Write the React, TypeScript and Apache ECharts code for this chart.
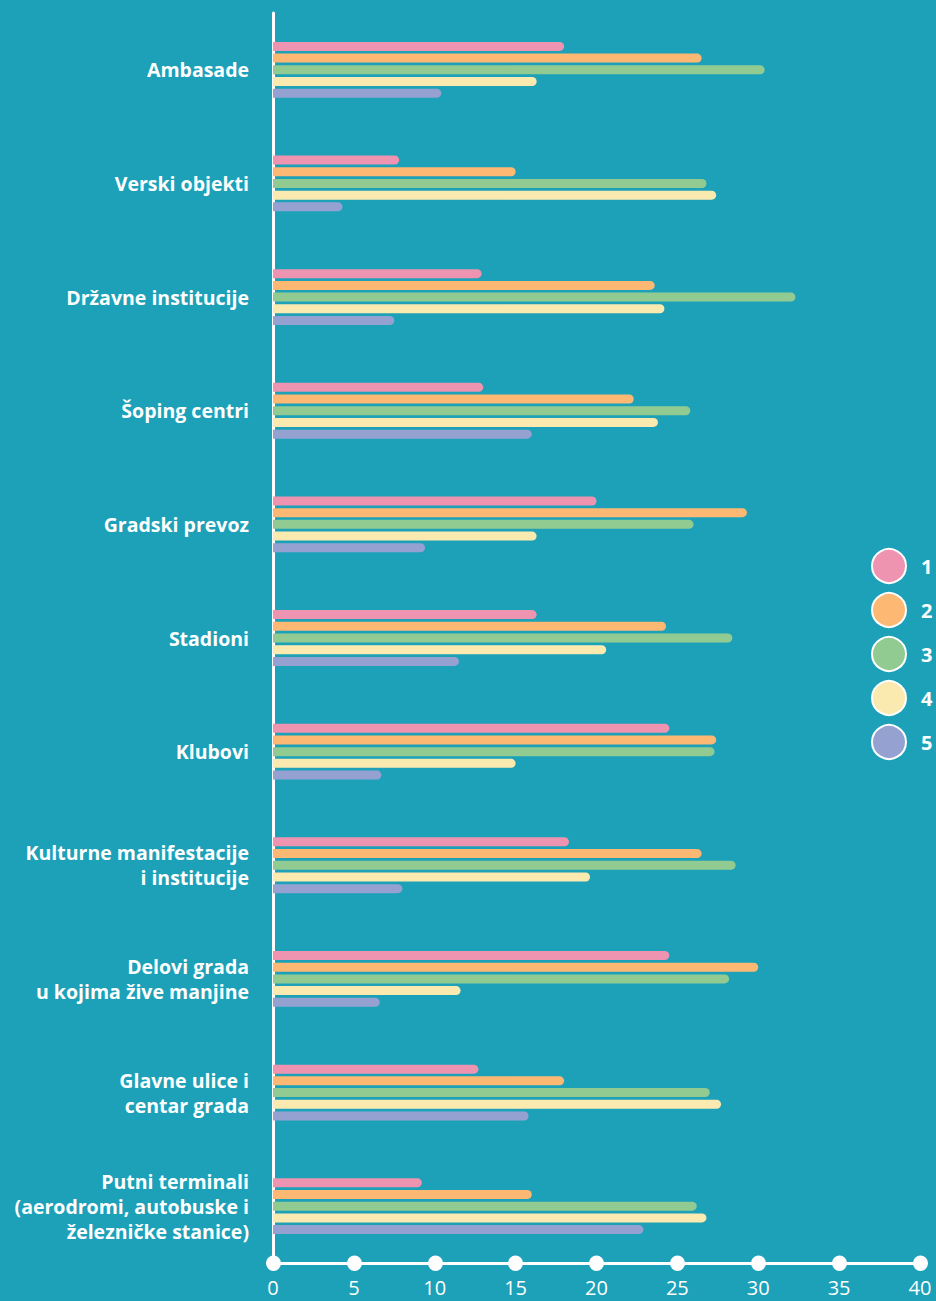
import React, { useEffect, useRef } from "react";
import * as echarts from "echarts";

const categories = [
  "Ambasade",
  "Verski objekti",
  "Državne institucije",
  "Šoping centri",
  "Gradski prevoz",
  "Stadioni",
  "Klubovi",
  "Kulturne manifestacije\ni institucije",
  "Delovi grada\nu kojima žive manjine",
  "Glavne ulice i\ncentar grada",
  "Putni terminali\n(aerodromi, autobuske i\nželezničke stanice)",
];

const seriesNames = ["1", "2", "3", "4", "5"];
const s1 = [18.0, 7.8, 12.9, 13.0, 20.0, 16.3, 24.5, 18.3, 24.5, 12.7, 9.2];
const s2 = [26.5, 15.0, 23.6, 22.3, 29.3, 24.3, 27.4, 26.5, 30.0, 18.0, 16.0];
const s3 = [30.4, 26.8, 32.3, 25.8, 26.0, 28.4, 27.3, 28.6, 28.2, 27.0, 26.2];
const s4 = [16.3, 27.4, 24.2, 23.8, 16.3, 20.6, 15.0, 19.6, 11.6, 27.7, 26.8];
const s5 = [10.4, 4.3, 7.5, 16.0, 9.4, 11.5, 6.7, 8.0, 6.6, 15.8, 22.9];
const seriesValues = [s1, s2, s3, s4, s5];
const colors = ["#ee94b1", "#fdb874", "#91cb92", "#fbeab0", "#95a2d1"];

const BG = "#1ca1b8";
const FONT = "'Open Sans', sans-serif";

export default function App() {
  const ref = useRef<HTMLDivElement>(null);
  useEffect(() => {
    const chart = echarts.init(ref.current!, null, { renderer: "svg" });
    chart.setOption({
      animation: false,
      backgroundColor: BG,
      grid: { left: 273, right: 16, top: 13, bottom: 38, containLabel: false },
      legend: {
        orient: "vertical",
        left: 866,
        top: 543,
        icon: "circle",
        itemWidth: 34,
        itemHeight: 34,
        itemGap: 8,
        itemStyle: { borderColor: "#ffffff", borderWidth: 2 },
        textStyle: {
          color: "#ffffff",
          fontSize: 20,
          fontWeight: "bold",
          fontFamily: FONT,
          padding: [0, 0, 0, 10],
        },
        data: seriesNames,
      },
      xAxis: {
        type: "value",
        min: 0,
        max: 40,
        interval: 5,
        axisLine: { show: true, lineStyle: { color: "#ffffff", width: 3 } },
        axisTick: {
          show: true,
          length: 0.5,
          lineStyle: { color: "#ffffff", width: 15, cap: "round" },
        },
        splitLine: { show: false },
        axisLabel: {
          color: "#ffffff",
          fontSize: 20,
          fontFamily: FONT,
          margin: 14,
        },
      },
      yAxis: {
        type: "category",
        inverse: true,
        data: categories,
        axisLine: { show: true, lineStyle: { color: "#ffffff", width: 3 } },
        axisTick: { show: false },
        axisLabel: {
          color: "#ffffff",
          fontSize: 19.5,
          fontWeight: "bold",
          fontFamily: FONT,
          lineHeight: 25,
          margin: 24,
          align: "right",
        },
      },
      series: seriesNames.map((name, i) => ({
        name,
        type: "bar",
        data: seriesValues[i],
        barWidth: 9,
        barGap: "30%",
        itemStyle: { color: colors[i], borderRadius: [0, 5, 5, 0] },
      })),
    });
    return () => chart.dispose();
  }, []);
  return (
    <div
      ref={ref}
      style={{ position: "absolute", left: 0, top: 0, width: 936, height: 1301 }}
    />
  );
}
